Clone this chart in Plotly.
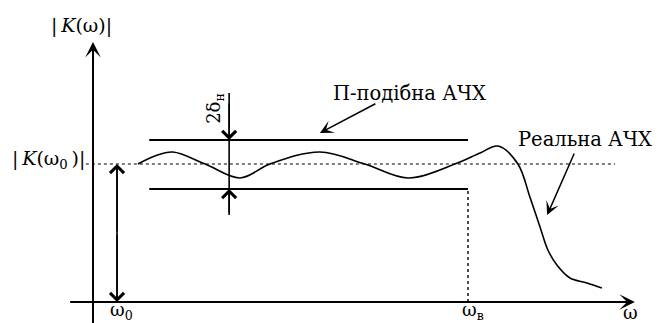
import plotly.graph_objects as go

# Normalised data: omega / omega_v  and  K / K(omega_0)
omega_real = [0.120, 0.165, 0.213, 0.299, 0.392, 0.472, 0.605, 0.725, 0.840, 0.965,
              1.032, 1.080, 1.133, 1.165, 1.192, 1.213, 1.237, 1.272, 1.317, 1.357]
k_real = [1.000, 1.058, 1.087, 1.000, 0.899, 1.000, 1.087, 1.000, 0.899, 1.000,
          1.080, 1.130, 1.000, 0.761, 0.543, 0.377, 0.268, 0.174, 0.138, 0.101]

band_omega = [0.15, 1.0]
band_upper = 1.174
band_lower = 0.819
k0 = 1.0
omega0 = 0.064
omega_v = 1.0
delta_omega = 0.363

FONT = "DejaVu Serif"
BLACK = "#000000"

fig = go.Figure()
fig.add_trace(go.Scatter(x=omega_real, y=k_real, mode="lines",
                         line=dict(color=BLACK, width=1.6, shape="spline", smoothing=1.0),
                         hoverinfo="skip", showlegend=False))

shapes = []
def seg(x0, y0, x1, y1, w=1.6, dash="solid"):
    shapes.append(dict(type="line", xref="x", yref="y", x0=x0, y0=y0, x1=x1, y1=y1,
                       line=dict(color=BLACK, width=w, dash=dash)))

# axes
seg(-0.061, 0, 1.42, 0, w=2)
seg(0, -0.16, 0, 1.86, w=2)
# band lines
seg(band_omega[0], band_upper, band_omega[1], band_upper, w=2)
seg(band_omega[0], band_lower, band_omega[1], band_lower, w=2)
# dotted reference lines
seg(-0.019, k0, 1.392, k0, w=1.2, dash="dot")
seg(omega_v, 0, omega_v, band_lower, w=1.4, dash="dot")
# 2δ dimension line
seg(delta_omega, 1.514, delta_omega, 0.630, w=1.6)
# double arrow body
seg(omega0, 0.02, omega0, 0.98, w=1.6)

annotations = []
def arrow(hx, hy, tx, ty, head=4, size=1.6, w=1.5):
    annotations.append(dict(x=hx, y=hy, ax=tx, ay=ty, xref="x", yref="y", axref="x", ayref="y",
                            text="", showarrow=True, arrowhead=head, arrowsize=size,
                            arrowwidth=w, arrowcolor=BLACK, standoff=0))

# axis arrows
arrow(1.445, 0, 1.35, 0, head=3, size=1.3, w=2)
arrow(0, 1.884, 0, 1.7, head=3, size=1.3, w=2)
# double arrow heads
arrow(omega0, k0, omega0, 0.5, head=4, size=1.8, w=1.5)
arrow(omega0, 0.0, omega0, 0.5, head=4, size=1.8, w=1.5)
# 2δ arrows
arrow(delta_omega, band_upper, delta_omega, 1.45, head=4, size=1.8, w=1.5)
arrow(delta_omega, band_lower, delta_omega, 0.64, head=4, size=1.8, w=1.5)
# pointer arrows
arrow(0.605, 1.225, 0.757, 1.442, head=3, size=1.5, w=1.5)
arrow(1.211, 0.630, 1.285, 1.087, head=3, size=1.5, w=1.5)

def label(x, y, t, size=20, xa="center", ya="middle", angle=0):
    annotations.append(dict(x=x, y=y, xref="x", yref="y", text=t, showarrow=False,
                            xanchor=xa, yanchor=ya, textangle=angle,
                            font=dict(family=FONT, size=size, color=BLACK)))

label(-0.032, 2.007, "|\u2009<i>K</i>(ω)|", size=19)
label(-0.017, 1.03, "|\u2009<i>K</i>(ω<sub>0</sub>\u2009)|", size=19, xa="right")
label(0.077, -0.065, "ω<sub>0</sub>", size=18)
label(1.013, -0.065, "ω<sub>в</sub>", size=18)
label(1.432, -0.075, "ω", size=18)
label(0.325, 1.406, "2δ<sub>н</sub>", size=18, angle=-90)
label(0.845, 1.514, "П-подібна АЧХ", size=19.5)
label(1.312, 1.181, "Реальна АЧХ", size=19.5)

fig.update_layout(
    width=660, height=315, margin=dict(l=0, r=0, t=0, b=0),
    paper_bgcolor="white", plot_bgcolor="white",
    font=dict(family=FONT, size=19, color=BLACK),
    xaxis=dict(range=[-0.2267, 1.5333], visible=False, fixedrange=True),
    yaxis=dict(range=[-0.1522, 2.1304], visible=False, fixedrange=True),
    shapes=shapes, annotations=annotations, showlegend=False,
)
fig.write_html("out.html")
